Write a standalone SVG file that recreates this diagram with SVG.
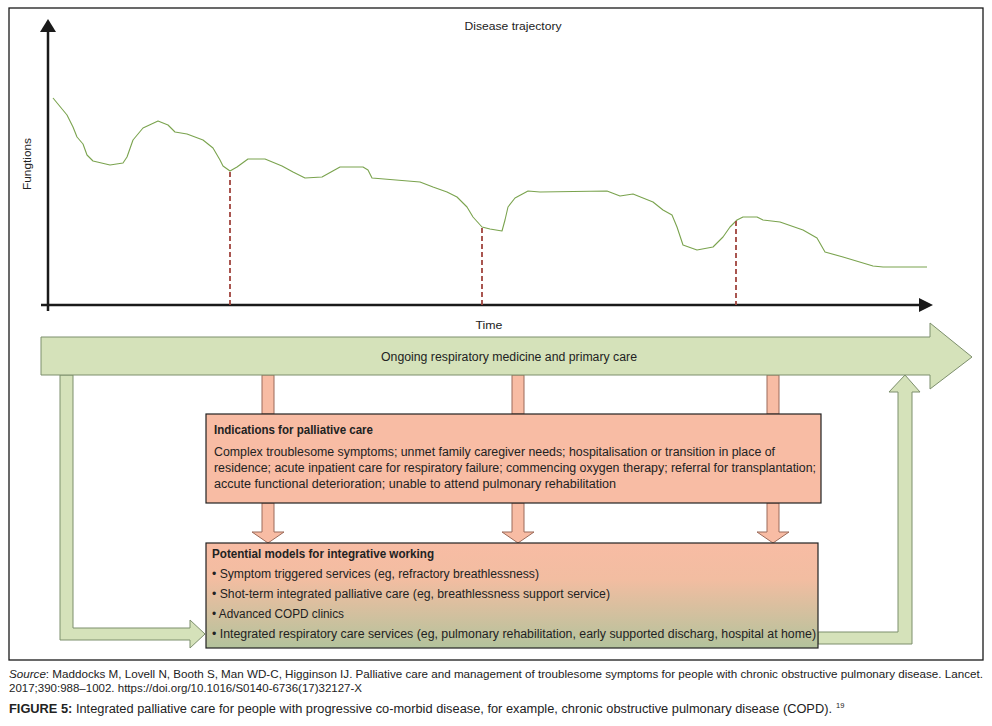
<svg xmlns="http://www.w3.org/2000/svg" width="992" height="726" viewBox="0 0 992 726">
<style>
text{font-family:"Liberation Sans",Arial,sans-serif;fill:#222}
.t11{font-size:11px}
.t12{font-size:12px}
.b{font-weight:bold}
.green{fill:#d5e2ba;stroke:#7d8f6c;stroke-width:1}
.pink{fill:#f8bca4;stroke:#9b6b5a;stroke-width:1}
.dash{stroke:#a0443d;stroke-width:1.8;stroke-dasharray:5,3;fill:none}
.axis{stroke:#1a1a1a;stroke-width:2.5;fill:none}
</style>
<defs>
<linearGradient id="pg" x1="0" y1="0" x2="0" y2="1">
<stop offset="0" stop-color="#f8bca4"/>
<stop offset="0.35" stop-color="#f2bda1"/>
<stop offset="1" stop-color="#b3c39c"/>
</linearGradient>
</defs>
<rect width="992" height="726" fill="#ffffff"/>
<rect x="9" y="8" width="974" height="652" fill="none" stroke="#1a1a1a" stroke-width="1.3"/>

<g id="chart">
<line class="axis" x1="48" y1="30" x2="48" y2="311"/>
<polygon points="48,19 40,32 56,32" fill="#1a1a1a"/>
<line class="axis" x1="41" y1="305" x2="921" y2="305"/>
<polygon points="933,305 919,298 919,312" fill="#1a1a1a"/>
<text class="t11" x="513" y="30" text-anchor="middle" textLength="97" lengthAdjust="spacingAndGlyphs">Disease trajectory</text>
<text class="t11" transform="translate(31,164) rotate(-90)" text-anchor="middle" textLength="52" lengthAdjust="spacingAndGlyphs">Fungtions</text>
<text class="t11" x="489" y="329" text-anchor="middle" textLength="27" lengthAdjust="spacingAndGlyphs">Time</text>
<polyline fill="none" stroke="#7aa34e" stroke-width="1.1" stroke-linejoin="round" points="53,98 67,115 73,127 77,137 83,144 87,155 93,161 110,165 123,163 127,157 133,140 143,128 158,121 168,125 175,132 187,134 203,140 213,148 220,160 223,166 230,171 237,167 248,159 265,159 282,166 293,172 305,178 322,177 340,167 363,167 368,170 372,178 420,182 433,187 447,192 457,197 467,207 473,217 482,227 490,229 502,231 505,220 508,207 515,198 528,191 540,192 607,191 620,196 633,194 653,202 663,210 672,215 677,227 683,245 697,250 713,247 723,237 730,227 737,220 743,217 757,217 763,220 780,222 803,230 817,238 825,252 843,257 873,266 883,267 927,267"/>
<line class="dash" x1="230" y1="172" x2="230" y2="305"/>
<line class="dash" x1="482" y1="228" x2="482" y2="305"/>
<line class="dash" x1="736" y1="221" x2="736" y2="305"/>
</g>

<g id="connectors">
<path class="green" d="M60,375 L60,640 L190,640 L190,648 L205,634 L190,620 L190,628 L73,628 L73,375 Z"/>
<path class="green" d="M818,632 L898,632 L898,392 L889,392 L905,375 L920,392 L912,392 L912,644 L818,644 Z"/>
<rect class="pink" x="262" y="375" width="12" height="39"/>
<rect class="pink" x="512" y="375" width="12" height="39"/>
<rect class="pink" x="767" y="375" width="12" height="39"/>
<path class="pink" d="M262,503 L262,532 L252,532 L268,543 L284,532 L274,532 L274,503 Z"/>
<path class="pink" d="M512,503 L512,532 L502,532 L518,543 L534,532 L524,532 L524,503 Z"/>
<path class="pink" d="M767,503 L767,532 L757,532 L773,543 L789,532 L779,532 L779,503 Z"/>
</g>

<g id="ongoing">
<path class="green" d="M41,337 L930,337 L930,323 L972,357 L930,389 L930,375 L41,375 Z"/>
<text class="t12" x="509" y="361" text-anchor="middle" textLength="256" lengthAdjust="spacingAndGlyphs">Ongoing respiratory medicine and primary care</text>
</g>

<g id="indications">
<rect x="206" y="414" width="615" height="89" fill="#f8bca4" stroke="#222" stroke-width="1.2"/>
<text class="t12 b" x="214" y="434" textLength="159" lengthAdjust="spacingAndGlyphs">Indications for palliative care</text>
<text class="t12" x="214" y="456" textLength="561" lengthAdjust="spacingAndGlyphs">Complex troublesome symptoms; unmet family caregiver needs; hospitalisation or transition in place of</text>
<text class="t12" x="214" y="472" textLength="602" lengthAdjust="spacingAndGlyphs">residence; acute inpatient care for respiratory failure; commencing oxygen therapy; referral for transplantation;</text>
<text class="t12" x="214" y="488" textLength="402" lengthAdjust="spacingAndGlyphs">accute functional deterioration; unable to attend pulmonary rehabilitation</text>
</g>

<g id="models">
<rect x="206" y="543" width="612" height="105" fill="url(#pg)" stroke="#222" stroke-width="1.2"/>
<text class="t12 b" x="212" y="558" textLength="222" lengthAdjust="spacingAndGlyphs">Potential models for integrative working</text>
<text class="t12" x="212" y="578" textLength="327" lengthAdjust="spacingAndGlyphs">• Symptom triggered services (eg, refractory breathlessness)</text>
<text class="t12" x="212" y="598" textLength="398" lengthAdjust="spacingAndGlyphs">• Shot-term integrated palliative care (eg, breathlessness support service)</text>
<text class="t12" x="212" y="618" textLength="132" lengthAdjust="spacingAndGlyphs">• Advanced COPD clinics</text>
<text class="t12" x="212" y="638" textLength="604" lengthAdjust="spacingAndGlyphs">• Integrated respiratory care services (eg, pulmonary rehabilitation, early supported discharg, hospital at home)</text>
</g>

<g id="caption">
<text class="t11" x="9" y="678" textLength="974" lengthAdjust="spacingAndGlyphs"><tspan font-style="italic">Source</tspan>: Maddocks M, Lovell N, Booth S, Man WD-C, Higginson IJ. Palliative care and management of troublesome symptoms for people with chronic obstructive pulmonary disease. Lancet.</text>
<text class="t11" x="9" y="692" textLength="353" lengthAdjust="spacingAndGlyphs">2017;390:988–1002. https://doi.org/10.1016/S0140-6736(17)32127-X</text>
<text x="9" y="713" font-size="12.5" textLength="823" lengthAdjust="spacingAndGlyphs"><tspan font-weight="bold">FIGURE 5:</tspan> Integrated palliative care for people with progressive co-morbid disease, for example, chronic obstructive pulmonary disease (COPD).</text>
<text x="836" y="708" font-size="7.5">19</text>
</g>
</svg>
